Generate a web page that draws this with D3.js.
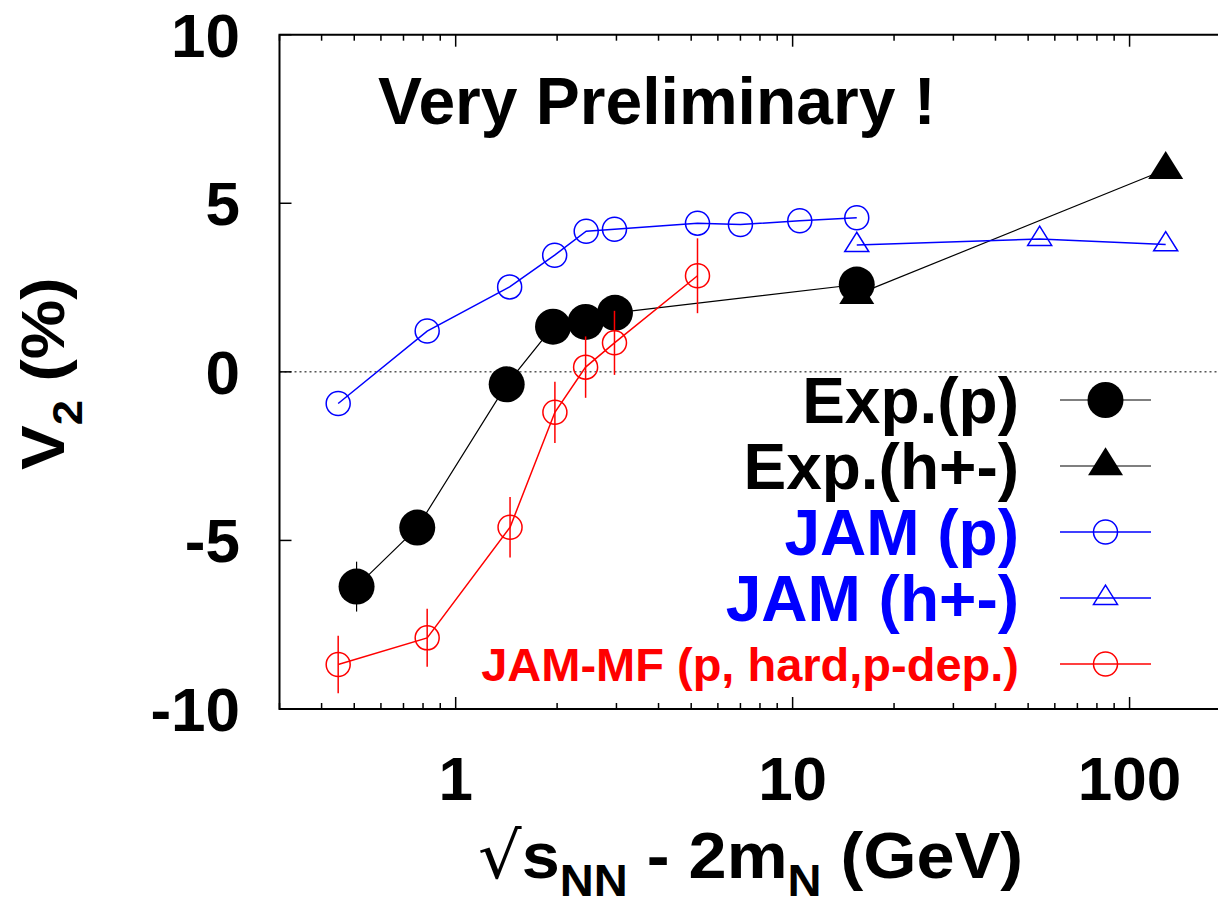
<!DOCTYPE html>
<html>
<head>
<meta charset="utf-8">
<script src="https://cdn.jsdelivr.net/npm/d3@7"></script>
<style>
  html, body { margin: 0; padding: 0; background: #fff; }
  svg text { font-family: "Liberation Sans", Arial, sans-serif; font-weight: bold; }
</style>
</head>
<body>
<div id="chart"></div>
<script>
// data
var expPX = [0.508, 0.769, 1.417, 1.945, 2.43, 2.97, 15.5];
var expPY = [-6.37, -4.62, -0.37, 1.34, 1.48, 1.75, 2.59];
var expPErr = [0.74, 0.45, 0.45, 0.45, 0.45, 0.45, 0.45];

var expHX = [15.5, 128];
var expHY = [2.29, 6.0];

var jamPX = [0.448, 0.823, 1.446, 1.967, 2.44, 2.96, 5.22, 7.0, 10.5, 15.5];
var jamPY = [-0.94, 1.21, 2.52, 3.46, 4.17, 4.23, 4.41, 4.37, 4.48, 4.57];

var jamHX = [15.5, 54.1, 128];
var jamHY = [3.76, 3.94, 3.78];

var mfX = [0.448, 0.823, 1.45, 1.97, 2.43, 2.96, 5.22];
var mfY = [-8.68, -7.89, -4.61, -1.2, 0.14, 0.86, 2.85];
var mfErr = [0.85, 0.86, 0.9, 0.91, 0.91, 0.95, 1.11];

var xTicks = [1, 10, 100];
var yTicks = [-10, -5, 0, 5, 10];
var legendLabels = ["Exp.(p)", "Exp.(h+-)", "JAM (p)", "JAM (h+-)", "JAM-MF (p, hard,p-dep.)"];

var W = 1218, H = 913;
var plotL = 279.5, plotT = 34.7, plotB = 709, plotR = 1231;

var svg = d3.select("#chart").append("svg")
  .attr("width", W)
  .attr("height", H);

var x = d3.scaleLog().domain([0.3, 200]).range([plotL, plotR]);
var y = d3.scaleLinear().domain([-10, 10]).range([plotB, plotT]);

function zip(xs, ys, es) {
  return xs.map(function(v, i) {
    return { x: v, y: ys[i], e: es ? es[i] : 0 };
  });
}

var series = [
  { data: zip(expPX, expPY, expPErr), color: "#000", lw: 1.2, shape: "circle", filled: true, r: 18 },
  { data: zip(expHX, expHY), color: "#000", lw: 1.2, shape: "triangle", filled: true, r: 17.5 },
  { data: zip(jamPX, jamPY), color: "#0000ff", lw: 1.5, shape: "circle", filled: false, r: 12 },
  { data: zip(jamHX, jamHY), color: "#0000ff", lw: 1.5, shape: "triangle", filled: false, r: 12 },
  { data: zip(mfX, mfY, mfErr), color: "#ff0000", lw: 1.5, shape: "circle", filled: false, r: 12 }
];

// zero line
svg.append("line")
  .attr("x1", plotL).attr("x2", plotR)
  .attr("y1", y(0)).attr("y2", y(0))
  .attr("stroke", "#000")
  .attr("stroke-width", 1)
  .attr("stroke-dasharray", "2,3");

var line = d3.line()
  .x(function(d) { return x(d.x); })
  .y(function(d) { return y(d.y); });

function marker(g, s, cx, cy) {
  var stroke = s.filled ? "none" : s.color;
  var fill = s.filled ? s.color : "none";
  if (s.shape === "circle") {
    g.append("circle")
      .attr("cx", cx).attr("cy", cy).attr("r", s.r)
      .attr("fill", fill).attr("stroke", stroke).attr("stroke-width", 1.5);
  } else {
    var w = s.r, h = s.r * 1.6;
    var pts = [[cx, cy - h * 2 / 3], [cx - w, cy + h / 3], [cx + w, cy + h / 3]];
    g.append("path")
      .attr("d", "M" + pts.join("L") + "Z")
      .attr("fill", fill).attr("stroke", stroke).attr("stroke-width", 1.5);
  }
}

series.forEach(function(s) {
  var g = svg.append("g");
  g.append("path")
    .datum(s.data)
    .attr("d", line)
    .attr("fill", "none")
    .attr("stroke", s.color)
    .attr("stroke-width", s.lw);

  g.selectAll(".err")
    .data(s.data.filter(function(d) { return d.e > 0; }))
    .enter()
    .append("line")
    .attr("x1", function(d) { return x(d.x); })
    .attr("x2", function(d) { return x(d.x); })
    .attr("y1", function(d) { return y(d.y - d.e); })
    .attr("y2", function(d) { return y(d.y + d.e); })
    .attr("stroke", s.color)
    .attr("stroke-width", s.lw);

  s.data.forEach(function(d) {
    marker(g, s, x(d.x), y(d.y));
  });
});

// frame and ticks
svg.append("path")
  .attr("d", "M" + plotR + "," + plotT + "H" + plotL + "V" + plotB + "H" + plotR)
  .attr("fill", "none")
  .attr("stroke", "#000")
  .attr("stroke-width", 2);

var minor = [];
[0.1, 1, 10, 100].forEach(function(dec) {
  for (var k = 2; k <= 9; k++) {
    var v = dec * k;
    if (v >= 0.3 && v <= 200) minor.push(v);
  }
});

var ticks = svg.append("g").attr("stroke", "#000").attr("stroke-width", 1.5);
minor.concat(xTicks).forEach(function(v) {
  var len = xTicks.indexOf(v) >= 0 ? 12 : 6;
  ticks.append("line").attr("x1", x(v)).attr("x2", x(v)).attr("y1", plotB).attr("y2", plotB - len);
  ticks.append("line").attr("x1", x(v)).attr("x2", x(v)).attr("y1", plotT).attr("y2", plotT + len);
});
yTicks.forEach(function(v) {
  ticks.append("line").attr("x1", plotL).attr("x2", plotL + 12).attr("y1", y(v)).attr("y2", y(v));
});

svg.selectAll(".xlab")
  .data(xTicks)
  .enter()
  .append("text")
  .attr("x", function(d) { return x(d); })
  .attr("y", 800)
  .attr("text-anchor", "middle")
  .attr("font-size", 62)
  .text(function(d) { return d; });

svg.selectAll(".ylab")
  .data(yTicks)
  .enter()
  .append("text")
  .attr("x", 240)
  .attr("y", function(d) { return y(d) + 22; })
  .attr("text-anchor", "end")
  .attr("font-size", 62)
  .text(function(d) { return d; });

// axis titles
var xt = svg.append("text")
  .attr("transform", "translate(478,878) scale(1.07,1)")
  .attr("font-size", 64);
xt.append("tspan").attr("font-weight", "normal").attr("font-family", "DejaVu Sans").text("\u221A");
xt.append("tspan").text("s");
xt.append("tspan").attr("font-size", 44).attr("dy", 18).text("NN");
xt.append("tspan").attr("dy", -18).text(" - 2m");
xt.append("tspan").attr("font-size", 44).attr("dy", 18).text("N");
xt.append("tspan").attr("dy", -18).text(" (GeV)");

var yt = svg.append("text")
  .attr("transform", "translate(64,470) rotate(-90) scale(1.08,1)")
  .attr("font-size", 62);
yt.append("tspan").text("V");
yt.append("tspan").attr("font-size", 42).attr("dy", 18).text("2");
yt.append("tspan").attr("dy", -18).text(" (%)");

svg.append("text")
  .attr("x", 378)
  .attr("y", 124)
  .attr("font-size", 66)
  .text("Very Preliminary !");

// legend
var legendY = [400, 466, 532, 598, 664];
legendLabels.forEach(function(lab, i) {
  var s = series[i];
  var small = i === 4;
  svg.append("text")
    .attr("x", 1019)
    .attr("y", legendY[i] + (small ? 17 : 23))
    .attr("text-anchor", "end")
    .attr("font-size", small ? 47 : 64)
    .attr("fill", s.color)
    .text(lab);
  svg.append("line")
    .attr("x1", 1060).attr("x2", 1151)
    .attr("y1", legendY[i]).attr("y2", legendY[i])
    .attr("stroke", s.color)
    .attr("stroke-width", s.lw);
  marker(svg, s, 1105.5, legendY[i]);
});
</script>
</body>
</html>
